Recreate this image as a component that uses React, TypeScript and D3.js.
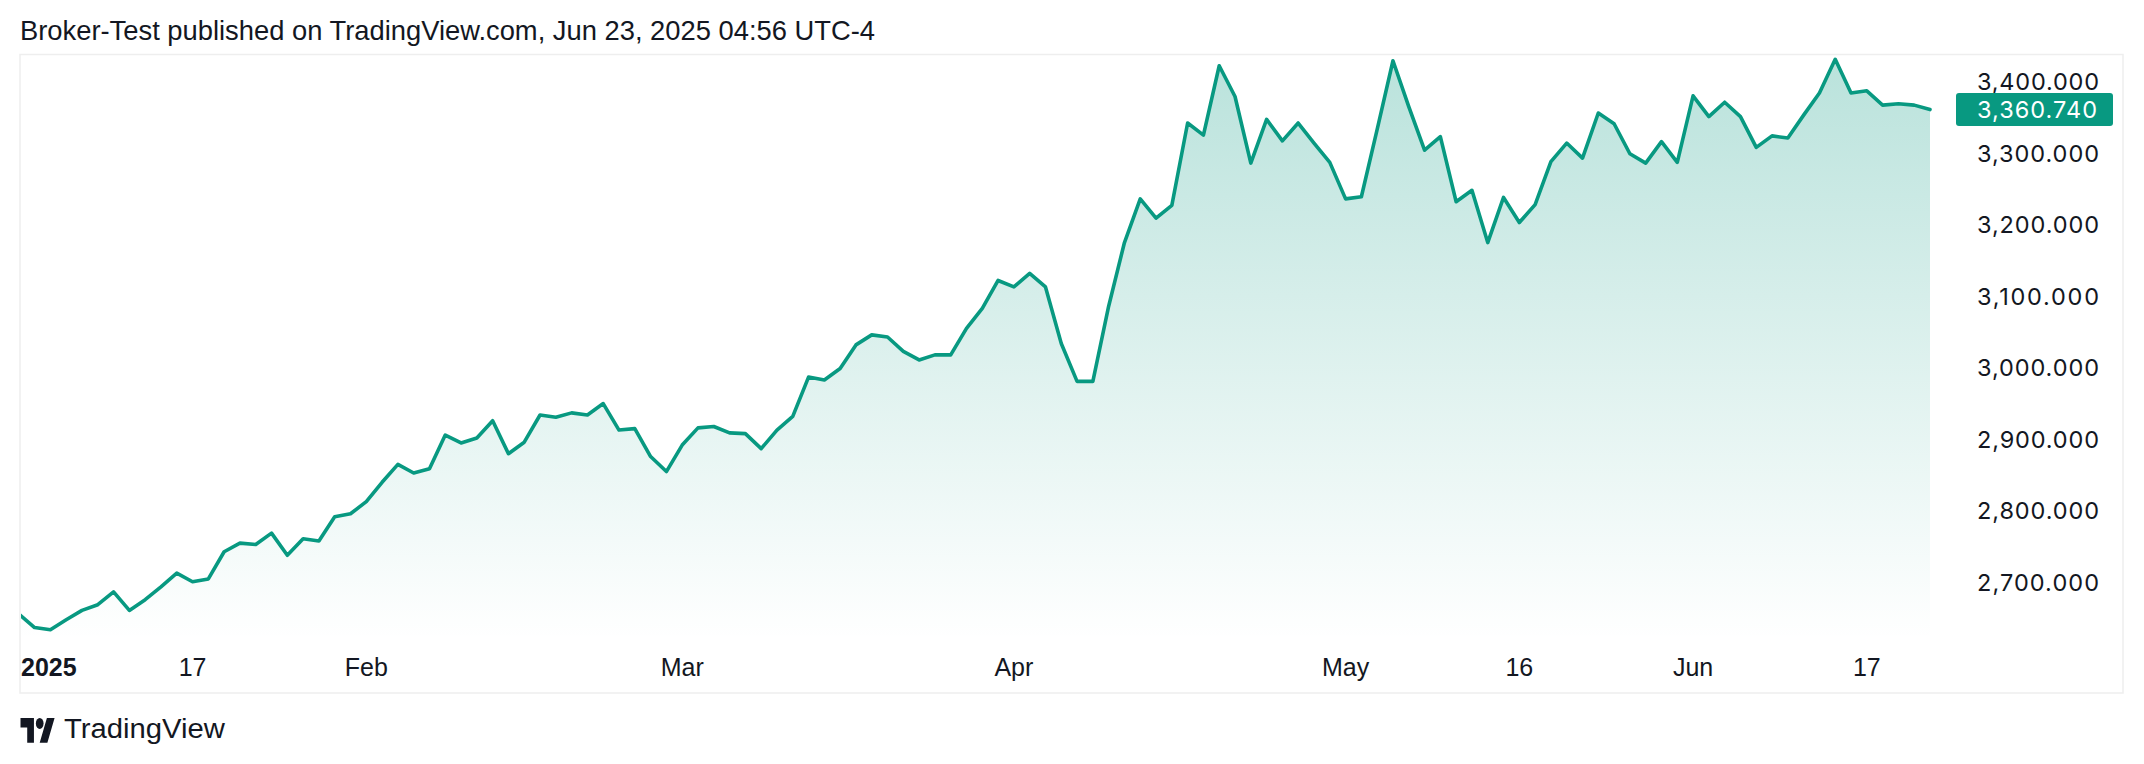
import React from "react";
import * as d3 from "d3";

const W = 2144;
const H = 764;

const titleText = "Broker-Test published on TradingView.com, Jun 23, 2025 04:56 UTC-4";

// closing prices, one per trading day, Jan 2 2025 .. Jun 23 2025
const prices: number[] = [
  2656, 2637, 2634, 2648, 2661, 2669, 2687, 2661, 2676, 2694,
  2713, 2701, 2705, 2743, 2755, 2753, 2769, 2738, 2761, 2758,
  2792, 2796, 2813, 2840, 2865, 2853, 2859, 2906, 2895, 2902,
  2926, 2880, 2896, 2934, 2931, 2937, 2934, 2950, 2913, 2915,
  2876, 2855, 2892, 2916, 2918, 2909, 2908, 2887, 2913, 2932,
  2987, 2983, 2999, 3032, 3046, 3043, 3023, 3011, 3018, 3018,
  3055, 3083, 3122, 3113, 3132, 3113, 3034, 2981, 2981, 3086,
  3175, 3236, 3209, 3227, 3342, 3325, 3422, 3379, 3286, 3347,
  3317, 3342, 3314, 3287, 3236, 3239, 3333, 3429, 3365, 3304,
  3323, 3232, 3248, 3175, 3238, 3203, 3228, 3288, 3314, 3293,
  3356, 3341, 3299, 3286, 3316, 3287, 3380, 3351, 3371, 3351,
  3308, 3324, 3321, 3353, 3384, 3431, 3384, 3387, 3367, 3369,
  3367, 3360.74,
];

const holidays = ["2025-04-18"];

// trading-day categories (weekdays, skipping the holiday)
const fmt = d3.timeFormat("%Y-%m-%d");
const tradingDays: string[] = d3
  .timeDay.range(new Date(2025, 0, 2), new Date(2025, 5, 24))
  .filter((d) => d.getDay() !== 0 && d.getDay() !== 6)
  .map((d) => fmt(d))
  .filter((s) => !holidays.includes(s));

const timeTickDates = ["2025-01-02", "2025-01-17", "2025-02-03", "2025-03-03", "2025-04-01", "2025-05-01", "2025-05-16", "2025-06-02", "2025-06-17"];
const timeTickLabels = ["2025", "17", "Feb", "Mar", "Apr", "May", "16", "Jun", "17"];

const priceTicks = [2700, 2800, 2900, 3000, 3100, 3200, 3300, 3400];
const lastPrice = 3360.74;

const TEAL = "#089981";
const TEXT = "#131722";

export default function App() {
  const frame = { left: 20, top: 54.5, right: 2123, bottom: 693 };
  const paneBottom = 640;
  const paneRight = 1945;

  const x = d3.scalePoint<string>().domain(tradingDays).range([18.8, 1930]).padding(0);
  const y = d3.scaleLinear().domain([2700, 3400]).range([582.5, 81.5]);

  const pts = tradingDays.map((d, i) => ({ d, v: prices[i] }));
  const line = d3
    .line<{ d: string; v: number }>()
    .x((p) => x(p.d) as number)
    .y((p) => y(p.v));
  const area = d3
    .area<{ d: string; v: number }>()
    .x((p) => x(p.d) as number)
    .y0(paneBottom)
    .y1((p) => y(p.v));

  const numFmt = d3.format(",.3f");

  return (
    <svg
      width={W}
      height={H}
      viewBox={`0 0 ${W} ${H}`}
      style={{ position: "absolute", left: 0, top: 0, background: "#fff" }}
    >
      <defs>
        <linearGradient id="areaGrad" gradientUnits="userSpaceOnUse" x1="0" y1="60" x2="0" y2={paneBottom}>
          <stop offset="0" stopColor={TEAL} stopOpacity={0.28} />
          <stop offset="1" stopColor={TEAL} stopOpacity={0.0} />
        </linearGradient>
        <clipPath id="paneClip">
          <rect x={frame.left + 1} y={frame.top + 1} width={paneRight - frame.left} height={paneBottom - frame.top} />
        </clipPath>
      </defs>
      <rect x={0} y={0} width={W} height={H} fill="#ffffff" />

      {/* title */}
      <text
        x={20}
        y={40}
        fontFamily="'Liberation Sans', Arial, sans-serif"
        fontSize={27.5}
        fill={TEXT}
        textLength={855}
        lengthAdjust="spacingAndGlyphs"
      >
        {titleText}
      </text>

      {/* frame */}
      <rect
        x={frame.left}
        y={frame.top}
        width={frame.right - frame.left}
        height={frame.bottom - frame.top}
        fill="none"
        stroke="#eeeeee"
        strokeWidth={1.5}
      />

      {/* series */}
      <g clipPath="url(#paneClip)">
        <path d={area(pts) || ""} fill="url(#areaGrad)" />
        <path d={line(pts) || ""} fill="none" stroke={TEAL} strokeWidth={3.6} strokeLinejoin="round" strokeLinecap="round" />
      </g>

      {/* price axis */}
      <g fontFamily="Inter, 'Noto Sans', sans-serif" fontSize={23.5} fill={TEXT}>
        {priceTicks.map((v) => (
          <text key={v} x={1977} y={y(v)} dominantBaseline="central" textLength={122} lengthAdjust="spacing">
            {numFmt(v)}
          </text>
        ))}
      </g>
      <rect x={1956} y={y(lastPrice) - 16.5} width={157} height={33} rx={3} fill={TEAL} />
      <text
        x={1977}
        y={y(lastPrice)}
        dominantBaseline="central"
        fontFamily="Inter, 'Noto Sans', sans-serif"
        fontSize={23.5}
        fill="#ffffff"
        textLength={120}
        lengthAdjust="spacing"
      >
        {numFmt(lastPrice)}
      </text>

      {/* time axis */}
      <g fontFamily="'Liberation Sans', Arial, sans-serif" fontSize={25} fill={TEXT}>
        {timeTickDates.map((d, i) => {
          const cx = x(d) as number;
          const first = i === 0;
          return (
            <text
              key={d}
              x={first ? frame.left + 1 : cx}
              y={676}
              textAnchor={first ? "start" : "middle"}
              fontWeight={first ? 700 : 400}
            >
              {timeTickLabels[i]}
            </text>
          );
        })}
      </g>

      {/* TradingView logo */}
      <g transform="translate(20.5,712.5) scale(0.96,1.37)" fill={TEXT}>
        <path d="M14 22H7V11H0V4h14v18ZM28 22h-8l7.5-18h8L28 22Z" />
        <circle cx={20} cy={8} r={4} />
      </g>
      <text
        x={64}
        y={738}
        fontFamily="'Liberation Sans', Arial, sans-serif"
        fontSize={27}
        fill={TEXT}
        textLength={161}
        lengthAdjust="spacingAndGlyphs"
      >
        TradingView
      </text>
    </svg>
  );
}
